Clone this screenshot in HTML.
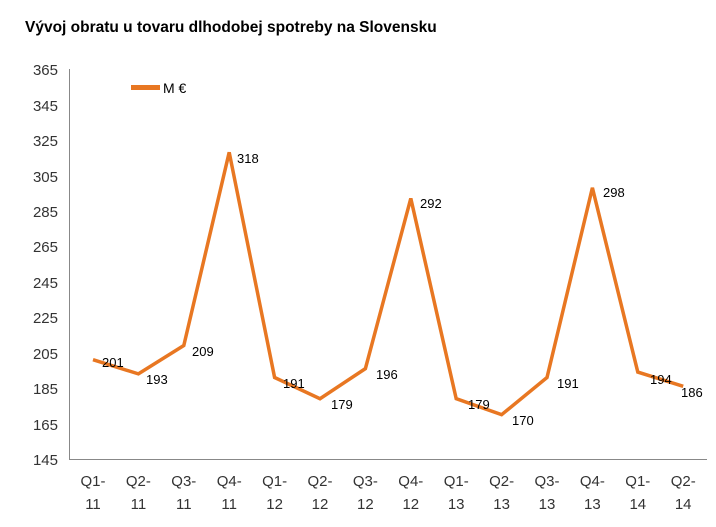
<!DOCTYPE html><html><head><meta charset="utf-8"><style>body{margin:0;background:#fff}svg{display:block}</style></head><body>
<svg width="716" height="527" xmlns="http://www.w3.org/2000/svg" font-family="Liberation Sans, Arial, sans-serif">
<text x="25" y="32" font-size="15.5" font-weight="bold" fill="#000">Vývoj obratu u tovaru dlhodobej spotreby na Slovensku</text>
<line x1="69.5" y1="69" x2="69.5" y2="460" stroke="#888" stroke-width="1"/>
<line x1="69" y1="459.5" x2="707" y2="459.5" stroke="#888" stroke-width="1"/>
<g font-size="15" fill="#333" text-anchor="end">
<text x="58" y="75">365</text><text x="58" y="111">345</text><text x="58" y="146">325</text><text x="58" y="182">305</text><text x="58" y="217">285</text><text x="58" y="252">265</text><text x="58" y="288">245</text><text x="58" y="323">225</text><text x="58" y="359">205</text><text x="58" y="394">185</text><text x="58" y="430">165</text><text x="58" y="465">145</text>
</g>
<line x1="131" y1="87.5" x2="160" y2="87.5" stroke="#e87722" stroke-width="5"/>
<text x="163" y="93" font-size="14" fill="#000">M €</text>
<polyline points="93,359.7 138.4,373.9 183.8,345.5 229.2,152.3 274.6,377.5 320,398.7 365.4,368.6 410.8,198.4 456.2,398.7 501.6,414.7 547,377.5 592.4,187.8 637.8,372.1 683.2,386.3" fill="none" stroke="#e87722" stroke-width="3.5"/>
<g font-size="13" fill="#000">
<text x="102" y="367">201</text><text x="146" y="384">193</text><text x="192" y="356">209</text><text x="237" y="163">318</text><text x="283" y="388">191</text><text x="331" y="409">179</text><text x="376" y="379">196</text><text x="420" y="208">292</text><text x="468" y="409">179</text><text x="512" y="425">170</text><text x="557" y="388">191</text><text x="603" y="197">298</text><text x="650" y="384">194</text><text x="681" y="397">186</text>
</g>
<g font-size="15" fill="#333" text-anchor="middle">
<text x="93" y="486">Q1-</text><text x="93" y="509">11</text>
<text x="138.4" y="486">Q2-</text><text x="138.4" y="509">11</text>
<text x="183.8" y="486">Q3-</text><text x="183.8" y="509">11</text>
<text x="229.2" y="486">Q4-</text><text x="229.2" y="509">11</text>
<text x="274.6" y="486">Q1-</text><text x="274.6" y="509">12</text>
<text x="320" y="486">Q2-</text><text x="320" y="509">12</text>
<text x="365.4" y="486">Q3-</text><text x="365.4" y="509">12</text>
<text x="410.8" y="486">Q4-</text><text x="410.8" y="509">12</text>
<text x="456.2" y="486">Q1-</text><text x="456.2" y="509">13</text>
<text x="501.6" y="486">Q2-</text><text x="501.6" y="509">13</text>
<text x="547" y="486">Q3-</text><text x="547" y="509">13</text>
<text x="592.4" y="486">Q4-</text><text x="592.4" y="509">13</text>
<text x="637.8" y="486">Q1-</text><text x="637.8" y="509">14</text>
<text x="683.2" y="486">Q2-</text><text x="683.2" y="509">14</text>
</g>
</svg></body></html>
